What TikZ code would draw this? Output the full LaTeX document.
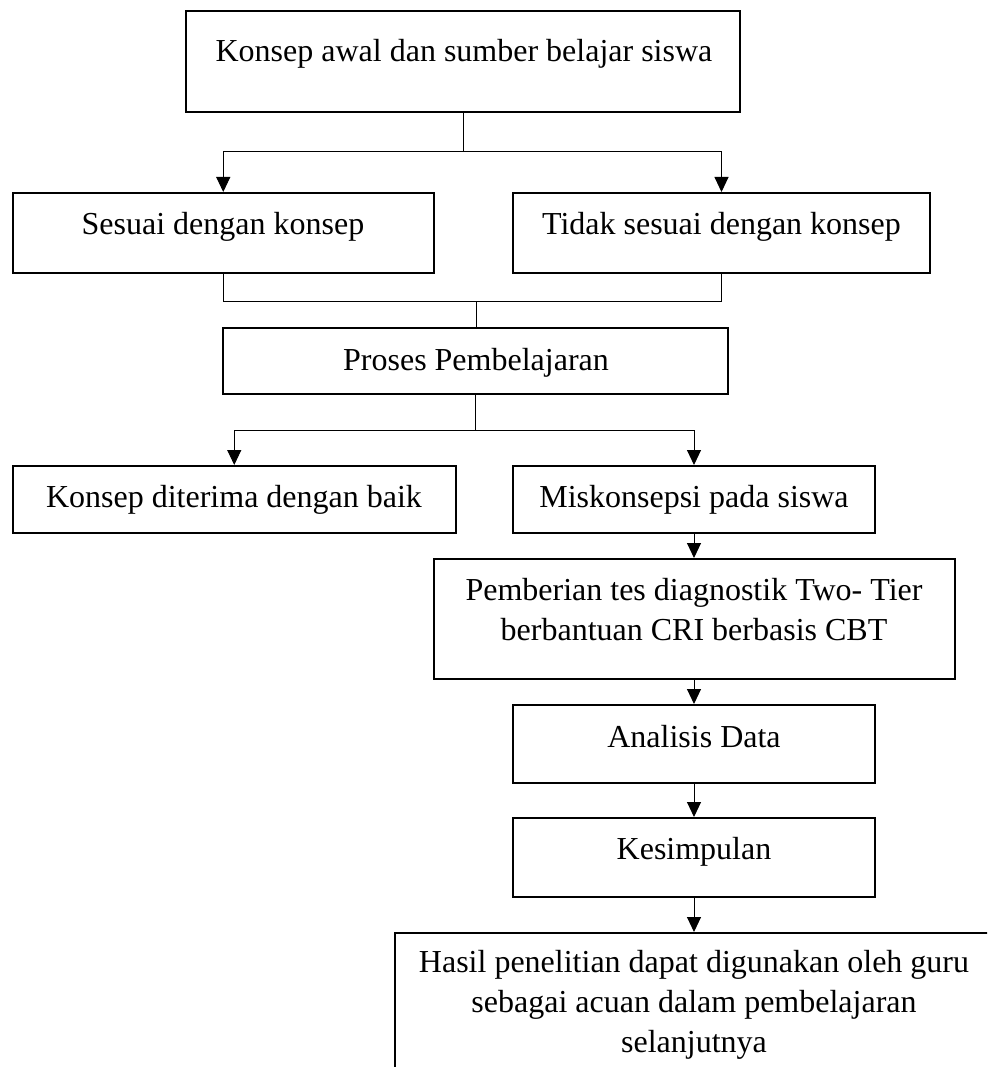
\documentclass[tikz,border=0pt]{standalone}
\usepackage{fontspec}
\setmainfont{Liberation Serif}
\usetikzlibrary{arrows.meta}
\begin{document}
\begin{tikzpicture}[x=1pt,y=-1pt,
  box/.style={draw,line width=2pt,inner sep=0pt},
  lbl/.style={font=\fontsize{32}{40}\selectfont,inner sep=0pt,align=center,anchor=base},
  conn/.style={line width=1pt},
  arr/.style={line width=1pt,-{Triangle[width=14pt,length=15pt]}}]
\fill[white] (0,0) rectangle (987,1067);
\clip (0,0) rectangle (987,1067);
% boxes
\node[box,minimum width=554pt,minimum height=101pt] (b1) at (463,61.5) {};
\node[box,minimum width=421.5pt,minimum height=80pt] (b2) at (223.25,233) {};
\node[box,minimum width=417pt,minimum height=80pt] (b3) at (721.5,233) {};
\node[box,minimum width=505pt,minimum height=66pt] (b4) at (475.5,361) {};
\node[box,minimum width=443.5pt,minimum height=67pt] (b5) at (234.25,499.5) {};
\node[box,minimum width=362pt,minimum height=67pt] (b6) at (694,499.5) {};
\node[box,minimum width=521pt,minimum height=120pt] (b7) at (694,619) {};
\node[box,minimum width=362.5pt,minimum height=78pt] (b8) at (694,744) {};
\node[box,minimum width=362.5pt,minimum height=79pt] (b9) at (694,857.5) {};
\node[box,minimum width=599pt,minimum height=157pt] (b10) at (694,1011.5) {};
% labels (base anchor = baseline of last line)
\node[lbl] (t1) at (464,62) {Konsep awal dan sumber belajar siswa};
\node[lbl] (t2) at (223,234) {Sesuai dengan konsep};
\node[lbl] (t3) at (721.5,234) {Tidak sesuai dengan konsep};
\node[lbl] (t4) at (476,370) {Proses Pembelajaran};
\node[lbl] (t5) at (234,507) {Konsep diterima dengan baik};
\node[lbl] (t6) at (694,507) {Miskonsepsi pada siswa};
\node[lbl] (t7) at (694,640) {Pemberian tes diagnostik Two- Tier\\berbantuan CRI berbasis CBT};
\node[lbl] (t8) at (694,747) {Analisis Data};
\node[lbl] (t9) at (694,859) {Kesimpulan};
\node[lbl] (t10) at (694,1052) {Hasil penelitian dapat digunakan oleh guru\\sebagai acuan dalam pembelajaran\\selanjutnya};
% connectors
\coordinate (j1) at (463,152);
\draw[conn] (b1.south) -- (j1);
\draw[arr] (j1) -| (b2.north);
\draw[arr] (j1) -| (b3.north);
\coordinate (j2) at (476,301);
\draw[conn] (b2.south) |- (j2);
\draw[conn] (b3.south) |- (j2);
\draw[conn] (j2) -- (j2 |- b4.north);
\coordinate (j3) at (475.5,430);
\draw[conn] (b4.south) -- (j3);
\draw[arr] (j3) -| (b5.north);
\draw[arr] (j3) -| (b6.north);
\draw[arr] (b6.south) -- (b7.north);
\draw[arr] (b7.south) -- (b8.north);
\draw[arr] (b8.south) -- (b9.north);
\draw[arr] (b9.south) -- (b10.north);
\end{tikzpicture}
\end{document}
